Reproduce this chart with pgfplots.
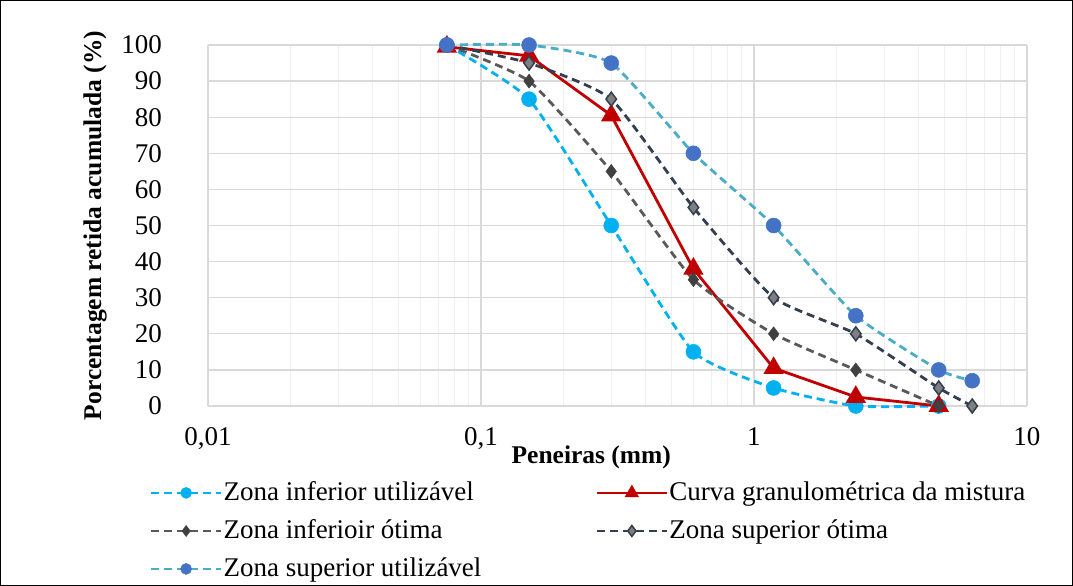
\documentclass[border=0pt]{standalone}
\usepackage{pgfplots}
\pgfplotsset{compat=1.18}
\usepackage{fontspec}
\setmainfont{Liberation Serif}
\definecolor{cInfU}{HTML}{00B0F0}
\definecolor{cCurva}{HTML}{C00000}
\definecolor{cInfO}{HTML}{595959}
\definecolor{cInfOm}{HTML}{404040}
\definecolor{cSupO}{HTML}{333F50}
\definecolor{cSupOm}{HTML}{7F7F7F}
\definecolor{cSupU}{HTML}{4BACC6}
\definecolor{cSupUm}{HTML}{4472C4}
\definecolor{gridmaj}{HTML}{D9D9D9}
\definecolor{gridmin}{HTML}{F0F0F0}
\begin{document}
\fontsize{27bp}{31bp}\selectfont
\begin{tikzpicture}
\begin{axis}[
  scale only axis, width=819bp, height=361bp,
  xmode=log, xmin=0.01, xmax=10, ymin=0, ymax=100,
  xtick={0.01,0.1,1,10}, xticklabels={{0,01},{0,1},1,10},
  minor xtick={0.02,0.03,0.04,0.05,0.06,0.07,0.08,0.09,0.2,0.3,0.4,0.5,0.6,0.7,0.8,0.9,2,3,4,5,6,7,8,9},
  ytick={0,10,...,100},
  /pgf/number format/assume math mode=true,
  tick label style={font=\fontsize{27bp}{31bp}\selectfont},
  xmajorgrids, xminorgrids, ymajorgrids,
  major grid style={draw=gridmaj, line width=1.2bp},
  minor grid style={draw=gridmin, line width=1.2bp},
  axis line style={draw=gridmaj, line width=1.2bp},
  axis x line*=bottom, axis y line*=left,
  major tick length=0pt, minor tick length=0pt,
  tick style={draw=none},
  xticklabel style={yshift=-12bp},
  yticklabel style={xshift=-37bp},
  xlabel={\textbf{Peneiras (mm)}},
  ylabel={\textbf{Porcentagem retida acumulada (\%)}},
  label style={font=\fontsize{25.5bp}{30bp}\selectfont},
  xlabel style={at={(axis description cs:0.468,0)}, anchor=north, yshift=-31bp},
  ylabel style={at={(axis description cs:0,0.5)}, anchor=south, yshift=92bp},
  clip=false,
  legend columns=2,
  legend cell align=left,
  legend style={draw=none, fill=none, at={(axis description cs:-0.075,-0.2)}, anchor=north west,
    row sep=13bp, font=\fontsize{27bp}{31bp}\selectfont,
    /tikz/every even column/.append style={column sep=113bp},
    nodes={inner sep=1bp}},
  legend image code/.code={
    \draw[mark repeat=2,mark phase=2, mark size=5.5bp] plot coordinates {(0bp,0bp) (35bp,0bp) (70bp,0bp)};
  },
]
\addplot[cInfU, line width=2.8bp, dash pattern=on 8bp off 5bp, smooth, tension=0.3,
  mark=*, mark size=7.5bp, mark options={solid, fill=cInfU, draw=cInfU, line width=0.5bp}]
  coordinates {(0.075,100) (0.15,85) (0.3,50) (0.6,15) (1.18,5) (2.36,0) (4.75,0)};
\addlegendentry{Zona inferior utilizável}
\addplot[cCurva, line width=2.8bp,
  mark=triangle*, mark size=9bp, mark options={solid, fill=cCurva, draw=cCurva}]
  coordinates {(0.075,99.5) (0.15,97) (0.3,80.5) (0.6,38) (1.18,10.5) (2.36,2.5) (4.75,0)};
\addlegendentry{Curva granulométrica da mistura}
\addplot[cInfO, line width=2.8bp, dash pattern=on 8bp off 5bp, smooth, tension=0.3,
  mark=diamond*, mark size=7bp, mark options={solid, fill=cInfOm, draw=cInfOm, line width=0.5bp}]
  coordinates {(0.075,100) (0.15,90) (0.3,65) (0.6,35) (1.18,20) (2.36,10) (4.75,0)};
\addlegendentry{Zona inferioir ótima}
\addplot[cSupO, line width=2.8bp, dash pattern=on 8bp off 5bp, smooth, tension=0.3,
  mark=diamond*, mark size=7bp, mark options={solid, fill=cSupOm, draw=cSupO, line width=1.5bp}]
  coordinates {(0.075,100) (0.15,95) (0.3,85) (0.6,55) (1.18,30) (2.36,20) (4.75,5) (6.3,0)};
\addlegendentry{Zona superior ótima}
\addplot[cSupU, line width=2.8bp, dash pattern=on 8bp off 5bp, smooth, tension=0.3,
  mark=*, mark size=7.5bp, mark options={solid, fill=cSupUm, draw=cSupUm, line width=0.5bp}]
  coordinates {(0.075,100) (0.15,100) (0.3,95) (0.6,70) (1.18,50) (2.36,25) (4.75,10) (6.3,7)};
\addlegendentry{Zona superior utilizável}
\end{axis}
\draw[black, line width=1bp] (-207.5bp,-179.5bp) rectangle (864.5bp,405.5bp);
\useasboundingbox (-208bp,-180bp) rectangle (865bp,406bp);
\end{tikzpicture}
\end{document}
